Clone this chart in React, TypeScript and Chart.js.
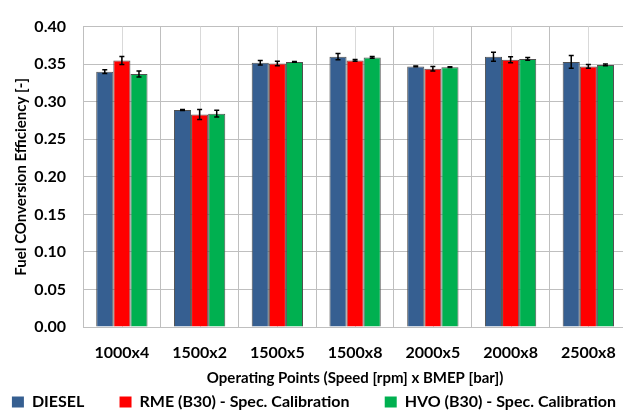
import React, { useEffect, useRef } from "react";
import { Chart, registerables } from "chart.js";

Chart.register(...registerables);

const categories = ["1000x4", "1500x2", "1500x5", "1500x8", "2000x5", "2000x8", "2500x8"];
const seriesNames = ["DIESEL", "RME (B30) - Spec. Calibration", "HVO (B30) - Spec. Calibration"];
const diesel = [0.340, 0.289, 0.352, 0.360, 0.347, 0.360, 0.353];
const rme = [0.355, 0.283, 0.351, 0.355, 0.344, 0.356, 0.347];
const hvo = [0.337, 0.284, 0.353, 0.359, 0.346, 0.357, 0.349];
const dieselErr = [0.0026, 0.0006, 0.003, 0.0043, 0.0006, 0.006, 0.0085];
const rmeErr = [0.0053, 0.0066, 0.003, 0.0012, 0.003, 0.004, 0.0026];
const hvoErr = [0.004, 0.0045, 0.0006, 0.0012, 0.0006, 0.0017, 0.0012];
const colors = ["#365F91", "#FF0000", "#00B050"];

const FONT = "Lato, 'Open Sans', sans-serif";

const isMajor = (v: number) => Math.abs(Math.round(v * 20) - v * 20) < 1e-6;

const centerLinesPlugin = {
  id: "centerLines",
  beforeDatasetsDraw(chart: any) {
    const { ctx, chartArea } = chart;
    const xs = chart.scales.x;
    ctx.save();
    ctx.strokeStyle = "#d9d9d9";
    ctx.lineWidth = 1;
    for (let i = 0; i < categories.length; i++) {
      const x = Math.round(xs.getPixelForValue(i)) + 0.5;
      ctx.beginPath();
      ctx.moveTo(x, chartArea.top);
      ctx.lineTo(x, chartArea.bottom);
      ctx.stroke();
    }
    ctx.restore();
  },
};

const errorBarsPlugin = {
  id: "errorBars",
  afterDatasetsDraw(chart: any) {
    const { ctx } = chart;
    const ys = chart.scales.y;
    ctx.save();
    ctx.strokeStyle = "#000000";
    ctx.lineWidth = 1.5;
    chart.data.datasets.forEach((ds: any, di: number) => {
      const meta = chart.getDatasetMeta(di);
      meta.data.forEach((bar: any, i: number) => {
        const v = ds.data[i];
        const e = ds.errors[i];
        const yTop = ys.getPixelForValue(v + e);
        const yBot = ys.getPixelForValue(v - e);
        const x = bar.x;
        ctx.beginPath();
        ctx.moveTo(x, yTop);
        ctx.lineTo(x, yBot);
        ctx.moveTo(x - 2.5, yTop);
        ctx.lineTo(x + 2.5, yTop);
        ctx.moveTo(x - 2.5, yBot);
        ctx.lineTo(x + 2.5, yBot);
        ctx.stroke();
      });
    });
    ctx.restore();
  },
};

export default function App() {
  const ref = useRef<HTMLCanvasElement | null>(null);

  useEffect(() => {
    if (!ref.current) return;
    const values = [diesel, rme, hvo];
    const errs = [dieselErr, rmeErr, hvoErr];
    const chart = new Chart(ref.current, {
      type: "bar",
      data: {
        labels: categories,
        datasets: seriesNames.map((name, i) => ({
          label: name,
          data: values[i],
          errors: errs[i],
          backgroundColor: colors[i],
          borderColor: "#505050",
          borderWidth: 1,
          categoryPercentage: 0.66,
          barPercentage: 1.0,
        })) as any,
      },
      options: {
        animation: false,
        responsive: true,
        maintainAspectRatio: false,
        layout: { autoPadding: false, padding: { top: 14, right: 4, left: 0, bottom: 0 } },
        plugins: {
          tooltip: { enabled: false },
          legend: {
            position: "bottom",
            maxHeight: 26,
            labels: {
              color: "#000000",
              font: { family: FONT, size: 16, weight: "bold" },
              boxWidth: 12,
              boxHeight: 11,
              padding: 8,
              generateLabels: (chart: any) => {
                const items = Chart.defaults.plugins.legend.labels.generateLabels(chart);
                return items.map((it: any, i: number) => ({
                  ...it,
                  text: i < items.length - 1 ? it.text + "       " : it.text,
                  strokeStyle: it.fillStyle,
                  lineWidth: 0,
                }));
              },
            },
          },
        },
        scales: {
          x: {
            afterFit: (s: any) => {
              s.height = 59;
            },
            grid: { color: "#bfbfbf", offset: true, drawTicks: false },
            border: { color: "#bfbfbf" },
            ticks: {
              color: "#000000",
              font: { family: FONT, size: 16, weight: "bold" },
              padding: 16,
            },
            title: {
              display: true,
              text: "Operating Points (Speed [rpm] x BMEP [bar])",
              color: "#000000",
              font: { family: FONT, size: 15, weight: "bold" },
              padding: { top: 0, bottom: -1 },
            },
          },
          y: {
            min: 0,
            max: 0.4,
            afterFit: (s: any) => {
              s.width = 83;
            },
            grid: {
              drawTicks: false,
              color: (c: any) => (isMajor(c.tick.value) ? "#bfbfbf" : "#dedede"),
            },
            border: { color: "#bfbfbf" },
            ticks: {
              stepSize: 0.01,
              maxTicksLimit: 100,
              autoSkip: false,
              color: "#000000",
              font: { family: FONT, size: 16, weight: "bold" },
              padding: 17,
              callback: (v: any) => (isMajor(Number(v)) ? Number(v).toFixed(2) : null),
            },
            title: {
              display: true,
              text: "Fuel COnversion Efficiency [-]",
              color: "#000000",
              font: { family: FONT, size: 15, weight: "bold" },
              padding: { top: 12, bottom: 0 },
            },
          },
        },
      },
      plugins: [centerLinesPlugin, errorBarsPlugin],
    });
    return () => chart.destroy();
  }, []);

  return (
    <div style={{ position: "fixed", left: 0, top: 0, width: 623, height: 412, overflow: "hidden", background: "#fff" }}>
      <div style={{ position: "relative", width: 632, height: 412 }}>
        <canvas ref={ref} />
      </div>
    </div>
  );
}
